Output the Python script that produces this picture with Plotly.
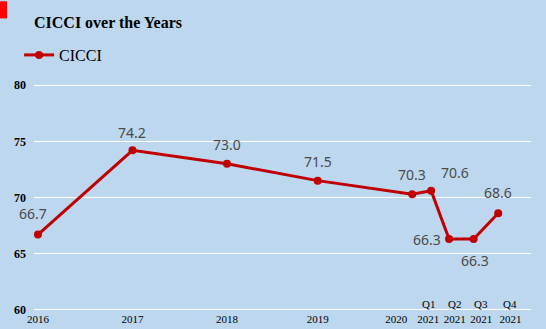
import plotly.graph_objects as go

# CICCI index values, annual points then 2021 quarters
labels = ["2016", "2017", "2018", "2019", "2020", "Q1 2021", "Q2 2021", "Q3 2021", "Q4 2021"]
x_pos = [0, 1, 2, 2.96, 3.96, 4.16, 4.35, 4.61, 4.87]
values = [66.7, 74.2, 73.0, 71.5, 70.3, 70.6, 66.3, 66.3, 68.6]
# pixel offsets of each value label from its point
label_dx = [-5, 0, 0, 0, 0, 24, -22, 1, 0]
label_dy = [21, 18, 19, 19, 20, 18, 0, -21, 21]

# category axis text
tick_x = [0, 1, 2, 2.96, 3.79, 4.13, 4.41, 4.69, 5.0]
tick_text = ["2016", "2017", "2018", "2019", "2020", "2021", "2021", "2021", "2021"]
quarter_x = [4.13, 4.41, 4.69, 5.0]
quarter_text = ["Q1", "Q2", "Q3", "Q4"]
y_ticks = [60, 65, 70, 75, 80]

BG = "#BDD7EE"
RED = "#C00000"
SERIF = "Liberation Serif, Times New Roman, serif"

fig = go.Figure()
fig.add_trace(go.Scatter(
    x=x_pos, y=values, name="CICCI",
    mode="lines+markers",
    line=dict(color=RED, width=3),
    marker=dict(color=RED, size=8),
    cliponaxis=False,
))

for xv, yv, dx, dy in zip(x_pos, values, label_dx, label_dy):
    fig.add_annotation(x=xv, y=yv, xref="x", yref="y", xshift=dx, yshift=dy,
                       text=f"{yv:.1f}", showarrow=False,
                       xanchor="center", yanchor="middle",
                       font=dict(family="Noto Sans, sans-serif", size=14, color="#4a4a4a"))

for qx, qt in zip(quarter_x, quarter_text):
    fig.add_annotation(x=qx, y=0, xref="x", yref="paper", yshift=7,
                       text=qt, showarrow=False, yanchor="middle",
                       font=dict(family=SERIF, size=11, color="black"))

fig.add_annotation(x=-2 / 497, y=1.0, xref="paper", yref="paper",
                   yshift=62, xanchor="left", yanchor="middle",
                   text="<b>CICCI over the Years</b>", showarrow=False,
                   font=dict(family=SERIF, size=16, color="black"))

fig.add_shape(type="rect", xref="paper", yref="paper",
              x0=-34 / 497, x1=-27 / 497, y0=1 + 65 / 225, y1=1 + 82 / 225,
              fillcolor="#FF0000", line_width=0)

fig.update_layout(
    width=546, height=329,
    margin=dict(l=34, r=15, t=84, b=18),
    paper_bgcolor=BG, plot_bgcolor=BG,
    showlegend=True,
    legend=dict(x=-0.03, y=1 + 29 / 227, xanchor="left", yanchor="middle",
                yref="paper", bgcolor="rgba(0,0,0,0)",
                font=dict(family=SERIF, size=16, color="black")),
    xaxis=dict(range=[-0.042, 5.217], tickvals=tick_x, ticktext=tick_text,
               showgrid=False, zeroline=False, showline=False, ticks="",
               automargin=False,
               tickfont=dict(family=SERIF, size=11, color="black")),
    yaxis=dict(range=[59.9, 80.1], tickvals=y_ticks,
               ticktext=[f"<b>{v}</b>" for v in y_ticks],
               showgrid=True, gridcolor="white",
               gridwidth=1, zeroline=False, showline=False, ticks="",
               automargin=False,
               tickfont=dict(family=SERIF, size=12, color="black"),
               ticklabelstandoff=7),
)

fig.write_html("out.html")
